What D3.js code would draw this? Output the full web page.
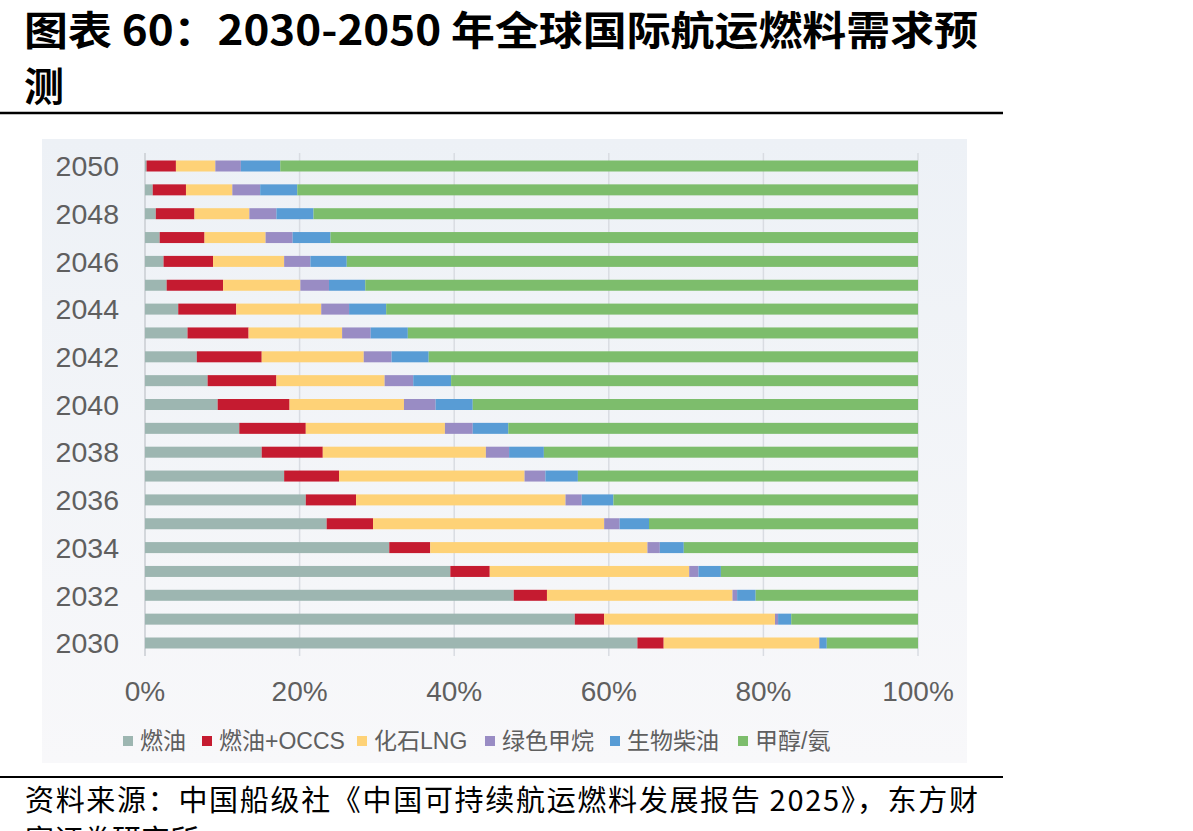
<!DOCTYPE html>
<html>
<head>
<meta charset="utf-8">
<script src="https://cdn.jsdelivr.net/npm/d3@7"></script>
<style>
  body { margin: 0; background: #fff; }
  svg { display: block; }
</style>
</head>
<body>
<div id="chart"></div>
<script>
// years, bottom (2030) to top (2050)
const years = d3.range(2030, 2051);
const seriesNames = ["燃油", "燃油+OCCS", "化石LNG", "绿色甲烷", "生物柴油", "甲醇/氨"];
const fuelOil = [63.7, 55.6, 47.7, 39.5, 31.6, 23.5, 20.8, 18.0, 15.1, 12.2, 9.4, 8.1, 6.7, 5.5, 4.3, 2.8, 2.4, 1.9, 1.4, 1.0, 0.2];
const fuelOilOccs = [3.4, 3.8, 4.3, 5.1, 5.3, 6.0, 6.5, 7.1, 7.9, 8.6, 9.3, 8.9, 8.4, 7.9, 7.5, 7.3, 6.4, 5.8, 5.0, 4.3, 3.8];
const fossilLng = [20.1, 22.1, 24.0, 25.8, 28.1, 29.9, 27.1, 24.0, 21.1, 18.0, 14.8, 14.0, 13.2, 12.1, 11.0, 10.0, 9.2, 7.9, 7.1, 6.0, 5.1];
const greenMethane = [0.1, 0.4, 0.6, 1.2, 1.6, 2.0, 2.1, 2.7, 3.0, 3.6, 4.1, 3.7, 3.6, 3.7, 3.6, 3.7, 3.4, 3.5, 3.5, 3.6, 3.3];
const biodiesel = [0.9, 1.7, 2.4, 2.9, 3.1, 3.8, 4.1, 4.2, 4.5, 4.6, 4.8, 4.9, 4.8, 4.8, 4.8, 4.7, 4.7, 4.9, 4.8, 4.8, 5.1];
const methanolAmmonia = [11.8, 16.4, 21.0, 25.5, 30.3, 34.8, 39.4, 44.0, 48.4, 53.0, 57.6, 60.4, 63.3, 66.0, 68.8, 71.5, 73.9, 76.0, 78.2, 80.3, 82.5];
const xTicks = [0, 20, 40, 60, 80, 100];

const colors = ["#9db6b1", "#c51b30", "#fed277", "#998cc4", "#589cd5", "#7dbd6c"];

const W = 1193, H = 831;
const svg = d3.select("#chart").append("svg")
    .attr("width", W)
    .attr("height", H);

// title
const title = svg.append("g")
    .attr("font-family", "'Noto Sans CJK SC', sans-serif")
    .attr("font-weight", "bold")
    .attr("font-size", 40)
    .attr("fill", "#000");
title.append("text").attr("x", 24).attr("y", 45)
    .attr("textLength", 954).attr("lengthAdjust", "spacingAndGlyphs")
    .text("图表 60：2030-2050 年全球国际航运燃料需求预");
title.append("text").attr("x", 24).attr("y", 101).text("测");

svg.append("line")
    .attr("x1", 0).attr("x2", 1003)
    .attr("y1", 113).attr("y2", 113)
    .attr("stroke", "#000").attr("stroke-width", 2.5);

// chart panel background
const grad = svg.append("defs").append("linearGradient")
    .attr("id", "bg").attr("x1", 0).attr("y1", 0).attr("x2", 0).attr("y2", 1);
grad.append("stop").attr("offset", "0%").attr("stop-color", "#edf1f6");
grad.append("stop").attr("offset", "100%").attr("stop-color", "#f8f8fa");
svg.append("rect")
    .attr("x", 42).attr("y", 139)
    .attr("width", 925).attr("height", 624)
    .attr("fill", "url(#bg)");

// scales
const x = d3.scaleLinear().domain([0, 100]).range([145, 918]);
const y = d3.scalePoint().domain(years.slice().reverse()).range([166, 643]);
const barH = 11;

// grid lines
svg.append("g")
    .selectAll("line")
    .data(xTicks)
    .join("line")
    .attr("x1", d => x(d)).attr("x2", d => x(d))
    .attr("y1", 153).attr("y2", 656)
    .attr("stroke", d => d === 0 ? "#c9ccd2" : "#d9dce2")
    .attr("stroke-width", 1.5);

// stacked bars
const table = years.map((yr, i) => ({
    year: yr,
    s0: fuelOil[i], s1: fuelOilOccs[i], s2: fossilLng[i],
    s3: greenMethane[i], s4: biodiesel[i], s5: methanolAmmonia[i]
}));
const keys = ["s0", "s1", "s2", "s3", "s4", "s5"];
const stacked = d3.stack().keys(keys)(table);

svg.append("g")
    .selectAll("g")
    .data(stacked)
    .join("g")
    .attr("fill", (d, i) => colors[i])
    .selectAll("rect")
    .data(d => d)
    .join("rect")
    .attr("x", d => x(d[0]))
    .attr("y", d => y(d.data.year) - barH / 2)
    .attr("width", d => Math.max(0, x(d[1]) - x(d[0])))
    .attr("height", barH);

// y axis labels (every other year)
svg.append("g")
    .attr("font-family", "'Liberation Sans', Arial, sans-serif")
    .attr("font-size", 28.5)
    .attr("fill", "#5f5f5f")
    .attr("text-anchor", "end")
    .selectAll("text")
    .data(years.filter(d => d % 2 === 0))
    .join("text")
    .attr("x", 119)
    .attr("y", d => y(d))
    .attr("dy", "0.36em")
    .text(d => d);

// x axis labels
svg.append("g")
    .attr("font-family", "'Liberation Sans', Arial, sans-serif")
    .attr("font-size", 28)
    .attr("fill", "#5f5f5f")
    .attr("text-anchor", "middle")
    .selectAll("text")
    .data(xTicks)
    .join("text")
    .attr("x", d => x(d))
    .attr("y", 701)
    .text(d => d + "%");

// legend
const legendX = [123, 202, 357, 485, 610, 738];
const legend = svg.append("g")
    .selectAll("g")
    .data(seriesNames)
    .join("g")
    .attr("transform", (d, i) => `translate(${legendX[i]},741)`);
legend.append("rect")
    .attr("x", 0).attr("y", -5)
    .attr("width", 10).attr("height", 10)
    .attr("fill", (d, i) => colors[i]);
legend.append("text")
    .attr("x", 17)
    .attr("dy", "0.36em")
    .attr("font-family", "'Liberation Sans', 'Noto Sans CJK SC', sans-serif")
    .attr("font-size", 23)
    .attr("fill", "#5f5f5f")
    .text(d => d);

// source
svg.append("line")
    .attr("x1", 0).attr("x2", 1003)
    .attr("y1", 777).attr("y2", 777)
    .attr("stroke", "#000").attr("stroke-width", 2);

const src = svg.append("g")
    .attr("font-family", "'Noto Sans CJK SC', sans-serif")
    .attr("font-size", 29)
    .attr("fill", "#000");
src.append("text").attr("x", 25).attr("y", 811)
    .attr("textLength", 953).attr("lengthAdjust", "spacing")
    .text("资料来源：中国船级社《中国可持续航运燃料发展报告 2025》，东方财");
src.append("text").attr("x", 25).attr("y", 851)
    .text("富证券研究所");
</script>
</body>
</html>
